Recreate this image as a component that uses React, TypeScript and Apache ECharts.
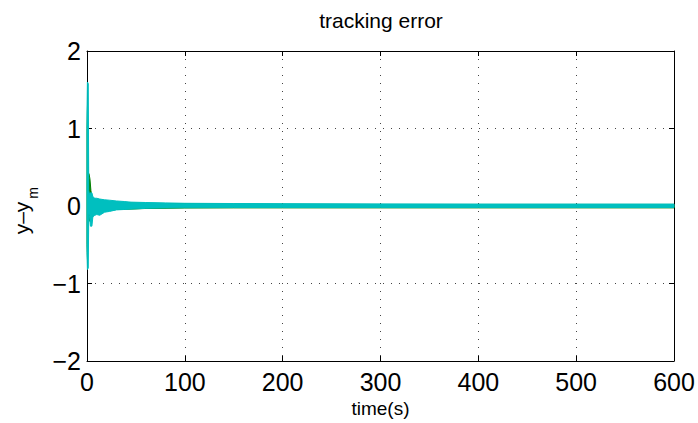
import React, { useEffect, useRef } from "react";
import * as echarts from "echarts";

// Axis ranges and tick spacing
const X_MIN = 0;
const X_MAX = 600;
const X_STEP = 100;
const Y_MIN = -2;
const Y_MAX = 2;
const Y_STEP = 1;

const TITLE = "tracking error";
const X_NAME = "time(s)";
const Y_NAME_MAIN = "y–y";
const Y_NAME_SUB = "m";

// Envelope (upper / lower extent) of the oscillating error, channel 1 (green)
const greenTime = [0, 0.5, 1.2, 2, 3, 4, 5, 7, 10, 15, 20, 30, 45, 60, 100, 150, 200, 300, 400, 500, 600];
const greenUpper = [1.0, 1.3, 0.42, 0.42, 0.35, 0.2, 0.12, 0.09, 0.08, 0.07, 0.06, 0.05, 0.04, 0.035, 0.03, 0.025, 0.022, 0.02, 0.02, 0.02, 0.02];
const greenLower = [-0.5, -0.7, -0.15, -0.18, -0.2, -0.2, -0.15, -0.1, -0.09, -0.08, -0.06, -0.045, -0.04, -0.032, -0.026, -0.024, -0.024, -0.024, -0.024, -0.024, -0.024];

// Envelope of the oscillating error, channel 2 (cyan)
const cyanTime = [0, 0.4, 1.3, 1.8, 2.5, 3.5, 5, 6, 8, 10, 13, 18, 23, 30, 38, 45, 60, 80, 100, 150, 200, 300, 400, 500, 600];
const cyanUpper = [1.2, 1.6, 1.58, 0.2, 0.15, 0.17, 0.17, 0.12, 0.1, 0.1, 0.09, 0.08, 0.075, 0.065, 0.058, 0.05, 0.045, 0.04, 0.035, 0.032, 0.03, 0.027, 0.025, 0.025, 0.025];
const cyanLower = [-0.6, -0.82, -0.8, -0.1, -0.12, -0.26, -0.26, -0.14, -0.12, -0.11, -0.12, -0.08, -0.07, -0.05, -0.045, -0.04, -0.03, -0.025, -0.022, -0.02, -0.02, -0.02, -0.02, -0.02, -0.02];

const GREEN = "#008000";
const CYAN = "#00bfbf";
const FONT = "'Liberation Sans', Arial, Helvetica, sans-serif";

function bandSeries(name: string, times: number[], upper: number[], lower: number[], color: string) {
  return {
    type: "custom",
    name,
    silent: true,
    xAxisIndex: 0,
    yAxisIndex: 0,
    data: times.map((t, i) => [t, upper[i], lower[i]]),
    encode: { x: 0, y: [1, 2] },
    renderItem: (params: any, api: any) => {
      if (params.dataIndex !== 0) return null;
      const pts: number[][] = [];
      for (let i = 0; i < times.length; i++) pts.push(api.coord([times[i], upper[i]]));
      for (let i = times.length - 1; i >= 0; i--) pts.push(api.coord([times[i], lower[i]]));
      return {
        type: "polygon",
        shape: { points: pts },
        style: { fill: color, stroke: color, lineWidth: 1, lineJoin: "round" },
      };
    },
  };
}

const gridLine = { show: true, lineStyle: { color: "#444", width: 1, type: [1, 7] } };
const frameLine = { show: true, onZero: false, lineStyle: { color: "#000", width: 1 } };

export default function App() {
  const ref = useRef<HTMLDivElement>(null);

  useEffect(() => {
    if (!ref.current) return;
    const chart = echarts.init(ref.current, undefined, { renderer: "svg" });
    chart.setOption({
      animation: false,
      backgroundColor: "#fff",
      title: {
        text: TITLE,
        left: 381,
        top: 10,
        padding: 0,
        textAlign: "center",
        textStyle: { fontFamily: FONT, fontSize: 21, fontWeight: "normal", color: "#000" },
      },
      grid: { left: 87, right: 24, top: 51, bottom: 59, containLabel: false },
      xAxis: [
        {
          type: "value",
          position: "bottom",
          min: X_MIN,
          max: X_MAX,
          interval: X_STEP,
          axisLine: frameLine,
          axisTick: { show: true, inside: true, length: 5, lineStyle: { color: "#000" } },
          axisLabel: { fontFamily: FONT, fontSize: 25, color: "#000", margin: 8 },
          splitLine: gridLine,
          name: X_NAME,
          nameLocation: "middle",
          nameGap: 38,
          nameTextStyle: { fontFamily: FONT, fontSize: 19, color: "#000" },
        },
        {
          type: "value",
          position: "top",
          min: X_MIN,
          max: X_MAX,
          interval: X_STEP,
          axisLine: frameLine,
          axisTick: { show: true, inside: true, length: 5, lineStyle: { color: "#000" } },
          axisLabel: { show: false },
          splitLine: { show: false },
        },
      ],
      yAxis: [
        {
          type: "value",
          position: "left",
          min: Y_MIN,
          max: Y_MAX,
          interval: Y_STEP,
          axisLine: frameLine,
          axisTick: { show: true, inside: true, length: 5, lineStyle: { color: "#000" } },
          axisLabel: {
            fontFamily: FONT,
            fontSize: 25,
            color: "#000",
            margin: 6,
            formatter: (v: number) => String(v).replace("-", "−"),
          },
          splitLine: gridLine,
        },
        {
          type: "value",
          position: "right",
          min: Y_MIN,
          max: Y_MAX,
          interval: Y_STEP,
          axisLine: frameLine,
          axisTick: { show: true, inside: true, length: 5, lineStyle: { color: "#000" } },
          axisLabel: { show: false },
          splitLine: { show: false },
        },
      ],
      graphic: [
        {
          type: "text",
          x: 21,
          y: 218,
          rotation: Math.PI / 2,
          style: {
            text: Y_NAME_MAIN,
            fontFamily: FONT,
            fontSize: 21,
            fill: "#000",
            align: "center",
            verticalAlign: "middle",
          },
        },
        {
          type: "text",
          x: 33,
          y: 193,
          rotation: Math.PI / 2,
          style: {
            text: Y_NAME_SUB,
            fontFamily: FONT,
            fontSize: 14,
            fill: "#000",
            align: "center",
            verticalAlign: "middle",
          },
        },
      ],
      series: [
        bandSeries("green", greenTime, greenUpper, greenLower, GREEN),
        bandSeries("cyan", cyanTime, cyanUpper, cyanLower, CYAN),
      ],
    });
    return () => chart.dispose();
  }, []);

  return (
    <div
      ref={ref}
      style={{ position: "fixed", left: 0, top: 0, width: 698, height: 423, background: "#fff" }}
    />
  );
}
